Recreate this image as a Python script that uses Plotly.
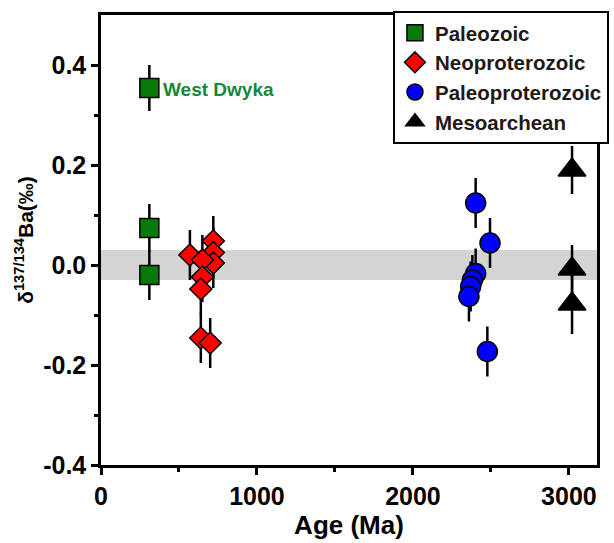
import plotly.graph_objects as go

# Data
paleozoic_age = [310, 310, 310]
paleozoic_val = [0.354, 0.074, -0.020]
paleozoic_err = [0.046, 0.048, 0.050]

neo_age = [570, 720, 720, 720, 650, 650, 640, 640, 700]
neo_val = [0.020, 0.048, 0.025, 0.004, 0.010, -0.024, -0.048, -0.146, -0.156]
neo_err = [0.05, 0.05, 0.05, 0.05, 0.05, 0.05, 0.05, 0.05, 0.05]

paleo_age = [2402, 2494, 2402, 2381, 2370, 2359, 2477]
paleo_val = [0.124, 0.044, -0.017, -0.030, -0.043, -0.063, -0.173]
paleo_err = [0.05, 0.05, 0.05, 0.05, 0.05, 0.05, 0.05]

meso_age = [3020, 3020, 3020]
meso_val = [0.190, -0.008, -0.078]
meso_err = [0.048, 0.048, 0.06]

band_lo, band_hi = -0.03, 0.03

FONT = "Arial, Liberation Sans, sans-serif"

fig = go.Figure()

def add(name, x, y, err, symbol, color, size):
    fig.add_trace(go.Scatter(
        x=x, y=y, mode="markers", name=name,
        marker=dict(symbol=symbol, color=color, size=size,
                    line=dict(color="black", width=1.5)),
        error_y=dict(type="data", array=err, visible=True, color="black",
                     thickness=2.5, width=0),
    ))

add("Paleozoic", paleozoic_age, paleozoic_val, paleozoic_err, "square", "#087808", 19)
add("Neoproterozoic", neo_age, neo_val, neo_err, "diamond", "#ff0000", 17)
add("Paleoproterozoic", paleo_age, paleo_val, paleo_err, "circle", "#0000ff", 20)
add("Mesoarchean", meso_age, meso_val, meso_err, "triangle-up", "black", 24)

fig.add_shape(type="rect", xref="x", yref="y", x0=0, x1=3180, y0=band_lo, y1=band_hi,
              fillcolor="#d4d4d4", line=dict(width=0), layer="below")

fig.add_annotation(x=paleozoic_age[0], y=paleozoic_val[0], text="<b>West Dwyka</b>",
                   showarrow=False, xanchor="left", xshift=12, yshift=-1,
                   font=dict(family=FONT, size=19, color="#13893b"))

axis_common = dict(
    showline=True, linecolor="black", linewidth=2.5, mirror=True,
    ticks="outside", tickcolor="black", tickwidth=2.5, ticklen=7,
    showgrid=False, zeroline=False, automargin=False,
    tickfont=dict(family=FONT, size=25, color="black"),
)

fig.update_layout(
    width=614, height=543,
    margin=dict(l=101, r=17, t=15, b=78, autoexpand=False),
    paper_bgcolor="white", plot_bgcolor="white",
    font=dict(family=FONT, color="black"),
    showlegend=True,
    legend=dict(xref="container", yref="container", x=0.640, y=0.980,
                xanchor="left", yanchor="top",
                bordercolor="black", borderwidth=2, bgcolor="white",
                font=dict(family=FONT, size=20.5, color="#231815", weight="bold"),
                itemsizing="trace", tracegroupgap=0),
    xaxis=dict(range=[0, 3180], tickvals=[0, 1000, 2000, 3000],
               ticktext=["<b>0</b>", "<b>1000</b>", "<b>2000</b>", "<b>3000</b>"],
               minor=dict(tickvals=[500, 1500, 2500], ticks="outside", ticklen=4,
                          tickwidth=2.5, tickcolor="black"),
               title=dict(text="<b>Age (Ma)</b>", font=dict(family=FONT, size=26), standoff=4),
               **axis_common),
    yaxis=dict(range=[-0.4, 0.5], tickvals=[-0.4, -0.2, 0.0, 0.2, 0.4],
               ticktext=["<b>-0.4</b>", "<b>-0.2</b>", "<b>0.0</b>", "<b>0.2</b>", "<b>0.4</b>"],
               minor=dict(tickvals=[-0.3, -0.1, 0.1, 0.3], ticks="outside", ticklen=4,
                          tickwidth=2.5, tickcolor="black"),
               title=dict(text="<b>δ<sup>137/134</sup>Ba(‰)</b>", font=dict(family=FONT, size=21), standoff=4),
               **axis_common),
)

fig.write_html("out.html")
